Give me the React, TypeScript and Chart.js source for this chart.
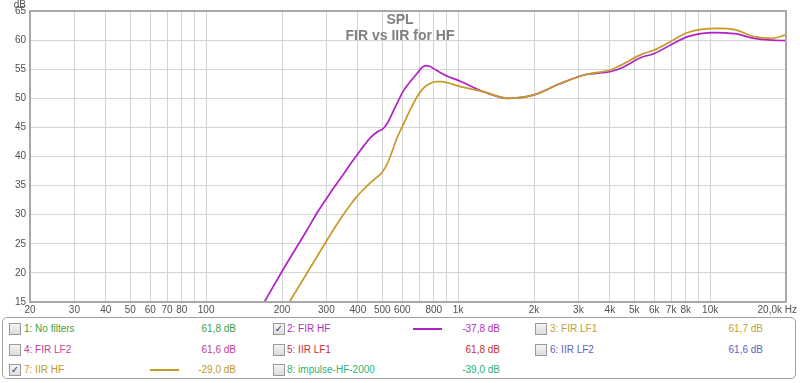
import React, { useEffect, useRef } from "react";
import { Chart, registerables } from "chart.js";

Chart.register(...registerables);

// ---- data ----
const firHfFreq = [160, 171.8, 201.6, 250, 280, 311.6, 350, 375, 397.7, 425, 450, 477, 507, 525, 556, 609, 650, 688, 720, 743, 770, 800, 852, 906, 1024, 1267, 1570, 2002, 2500, 3163, 4037, 4426, 5315, 6000, 7000, 8149, 10395, 12500, 14990, 17500, 20000];
const firHfDb = [13.0, 15.3, 20.5, 27.2, 30.8, 33.8, 36.9, 38.8, 40.3, 42.0, 43.3, 44.2, 44.9, 45.8, 48.0, 51.4, 53.0, 54.3, 55.3, 55.6, 55.5, 55.1, 54.4, 53.8, 52.9, 51.1, 50.0, 50.6, 52.4, 54.0, 54.6, 55.15, 57.0, 57.7, 59.2, 60.6, 61.3, 61.1, 60.3, 60.0, 59.9];

const iirHfFreq = [200, 216, 250, 302, 325, 350, 375, 397.7, 425, 449, 475, 500, 520, 540, 570, 609, 650, 688, 730, 777, 820, 852, 1024, 1267, 1570, 2002, 2500, 3163, 4037, 4426, 5315, 6000, 7000, 8149, 10700, 12500, 14990, 17500, 20000];
const iirHfDb = [12.9, 15.3, 19.8, 25.65, 27.9, 30.0, 31.8, 33.2, 34.5, 35.5, 36.4, 37.3, 38.5, 40.2, 43.0, 45.7, 48.3, 50.3, 51.8, 52.6, 52.85, 52.85, 52.0, 51.1, 50.0, 50.6, 52.4, 54.0, 54.9, 55.7, 57.5, 58.3, 59.8, 61.3, 62.0, 61.8, 60.6, 60.3, 60.9];

const gridFreqs = [20, 30, 40, 50, 60, 70, 80, 90, 100, 200, 300, 400, 500, 600, 700, 800, 900, 1000, 2000, 3000, 4000, 5000, 6000, 7000, 8000, 9000, 10000, 20000];
const xLabelFreqs = [20, 30, 40, 50, 60, 70, 80, 100, 200, 300, 400, 500, 600, 800, 1000, 2000, 3000, 4000, 5000, 6000, 7000, 8000, 10000, 20000];
const xLabelTexts = ["20", "30", "40", "50", "60", "70", "80", "100", "200", "300", "400", "500", "600", "800", "1k", "2k", "3k", "4k", "5k", "6k", "7k", "8k", "10k", "20,0k Hz"];
const yTicks = [15, 20, 25, 30, 35, 40, 45, 50, 55, 60, 65];

const titleLines = ["SPL", "FIR vs IIR for HF"];

const legendNames = ["1: No filters", "2: FIR HF", "3: FIR LF1", "4: FIR LF2", "5: IIR LF1", "6: IIR LF2", "7: IIR HF", "8: impulse-HF-2000"];
const legendValues = ["61,8 dB", "-37,8 dB", "61,7 dB", "61,6 dB", "61,8 dB", "61,6 dB", "-29,0 dB", "-39,0 dB"];
const legendColors = ["#3e9e3e", "#b030c0", "#c0a040", "#c0409c", "#c83030", "#6060c0", "#c09828", "#30b070"];
const legendChecked = [false, true, false, false, false, false, true, false];

const MAGENTA = "#b020c4";
const GOLD = "#c49a28";
const FONT = '"Liberation Sans", Arial, sans-serif';

const overlayPlugin = {
  id: "overlay",
  afterDraw(chart: any) {
    const { ctx, chartArea, scales } = chart;
    const { left, top, right, bottom } = chartArea;
    ctx.save();
    // frame
    ctx.strokeStyle = "#a8a8a8";
    ctx.lineWidth = 2;
    ctx.strokeRect(left, top, right - left, bottom - top);
    // y tick labels
    ctx.fillStyle = "#505050";
    ctx.font = "10px " + FONT;
    ctx.textAlign = "right";
    ctx.textBaseline = "middle";
    yTicks.forEach((v) => {
      ctx.fillText(String(v), left - 4, scales.y.getPixelForValue(v));
    });
    ctx.textBaseline = "alphabetic";
    ctx.fillText("dB", left - 4, 8);
    // x tick labels
    ctx.textBaseline = "middle";
    xLabelFreqs.forEach((f, i) => {
      const px = scales.x.getPixelForValue(f);
      if (i === xLabelFreqs.length - 1) {
        ctx.textAlign = "right";
        ctx.fillText(xLabelTexts[i], 797, bottom + 8);
      } else {
        ctx.textAlign = "center";
        ctx.fillText(xLabelTexts[i], px, bottom + 8);
      }
    });
    // title
    ctx.fillStyle = "#808080";
    ctx.font = "bold 14px " + FONT;
    ctx.textAlign = "center";
    ctx.textBaseline = "middle";
    ctx.fillText(titleLines[0], 400, 20);
    ctx.fillText(titleLines[1], 400, 36);
    ctx.restore();
  },
};

function Legend() {
  const colBox = [9, 273, 535];
  const colLabel = [24, 287, 550];
  const colValueRight = [236, 500, 763];
  const colLine = [150, 413, 676];
  const rowY = [329, 349.5, 370];
  return (
    <div>
      <div
        style={{
          position: "absolute",
          left: 2,
          top: 317,
          width: 794,
          height: 62,
          border: "1px solid #a0a0a0",
          borderRadius: 5,
          boxSizing: "border-box",
          background: "#fff",
        }}
      />
      {legendNames.map((name, i) => {
        const row = Math.floor(i / 3);
        const col = i % 3;
        const cy = rowY[row];
        const color = legendColors[i];
        return (
          <React.Fragment key={i}>
            <div
              style={{
                position: "absolute",
                left: colBox[col],
                top: cy - 6,
                width: 12,
                height: 12,
                boxSizing: "border-box",
                border: "1px solid #9a9a9a",
                background: "linear-gradient(#f4f4f4, #dcdcdc)",
                fontFamily: '"DejaVu Sans", sans-serif',
                fontSize: 10,
                lineHeight: "10px",
                textAlign: "center",
                color: "#2a3f8a",
                fontWeight: "bold",
              }}
            >
              {legendChecked[i] ? "✓" : ""}
            </div>
            <div
              style={{
                position: "absolute",
                left: colLabel[col],
                top: cy - 7,
                height: 14,
                lineHeight: "14px",
                fontFamily: FONT,
                fontSize: 10,
                color,
                whiteSpace: "nowrap",
              }}
            >
              {name}
            </div>
            {legendChecked[i] ? (
              <div
                style={{
                  position: "absolute",
                  left: colLine[col],
                  top: cy - 1,
                  width: 29,
                  height: 2,
                  background: i === 1 ? MAGENTA : GOLD,
                }}
              />
            ) : null}
            <div
              style={{
                position: "absolute",
                left: colValueRight[col] - 80,
                width: 80,
                top: cy - 7,
                height: 14,
                lineHeight: "14px",
                textAlign: "right",
                fontFamily: FONT,
                fontSize: 10,
                color,
                whiteSpace: "nowrap",
              }}
            >
              {legendValues[i]}
            </div>
          </React.Fragment>
        );
      })}
    </div>
  );
}

export default function App() {
  const canvasRef = useRef<HTMLCanvasElement | null>(null);

  useEffect(() => {
    const canvas = canvasRef.current;
    if (!canvas) return;
    const chart = new Chart(canvas, {
      type: "line",
      data: {
        datasets: [
          {
            label: "7: IIR HF",
            data: iirHfFreq.map((f, i) => ({ x: f, y: iirHfDb[i] })),
            borderColor: GOLD,
            borderWidth: 1.7,
            pointRadius: 0,
            fill: false,
            cubicInterpolationMode: "monotone",
          },
          {
            label: "2: FIR HF",
            data: firHfFreq.map((f, i) => ({ x: f, y: firHfDb[i] })),
            borderColor: MAGENTA,
            borderWidth: 1.7,
            pointRadius: 0,
            fill: false,
            cubicInterpolationMode: "monotone",
          },
        ],
      },
      options: {
        responsive: false,
        maintainAspectRatio: false,
        animation: false,
        layout: { padding: { left: 30, right: 14, top: 11, bottom: 81 } },
        plugins: {
          legend: { display: false },
          tooltip: { enabled: false },
          title: { display: false },
        },
        scales: {
          x: {
            type: "logarithmic",
            min: 20,
            max: 20000,
            afterBuildTicks: (s: any) => {
              s.ticks = gridFreqs.map((v) => ({ value: v }));
            },
            ticks: { display: false },
            grid: { color: "#d4d4d4", lineWidth: 1, drawTicks: false },
            border: { display: false },
          },
          y: {
            type: "linear",
            min: 15,
            max: 65,
            afterBuildTicks: (s: any) => {
              s.ticks = yTicks.map((v) => ({ value: v }));
            },
            ticks: { display: false },
            grid: { color: "#d4d4d4", lineWidth: 1, drawTicks: false },
            border: { display: false },
          },
        },
      } as any,
      plugins: [overlayPlugin],
    });
    return () => chart.destroy();
  }, []);

  return (
    <div style={{ position: "fixed", left: 0, top: 0, width: 800, height: 383, background: "#fff", overflow: "hidden" }}>
      <canvas ref={canvasRef} width={800} height={383} style={{ position: "absolute", left: 0, top: 0, display: "block" }} />
      <Legend />
    </div>
  );
}
